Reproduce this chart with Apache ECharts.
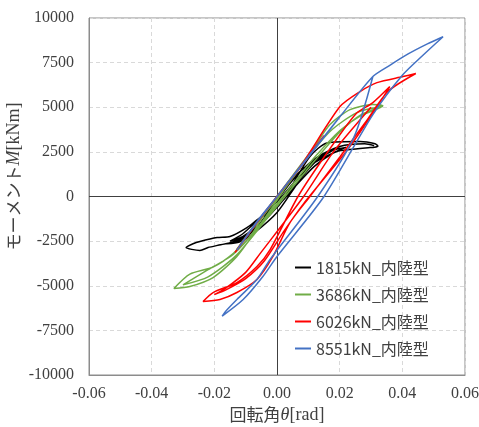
<!DOCTYPE html>
<html>
<head>
<meta charset="utf-8">
<script src="https://cdn.jsdelivr.net/npm/echarts@6/dist/echarts.min.js"></script>
<style>
  html, body { margin: 0; padding: 0; background: #fff; }
  #chart { width: 479px; height: 427px; }
</style>
</head>
<body>
<div id="chart"></div>
<script>
// 軸目盛
var xTicks = [-0.06, -0.04, -0.02, 0, 0.02, 0.04, 0.06];
var yTicks = [-10000, -7500, -5000, -2500, 0, 2500, 5000, 7500, 10000];

var names = ['1815kN_内陸型', '3686kN_内陸型', '6026kN_内陸型', '8551kN_内陸型'];
var colors = ['#000000', '#70AD47', '#FF0000', '#4472C4'];

// 回転角θ[rad], モーメントM[kNm]
var loop1815 = [
  [0, 0], [0.004, 700], [0.008, 1500], [0.012, 2100], [0.016, 2500], [0.012, 2000], [0.006, 900], [0, -300],
  [-0.006, -1300], [-0.011, -2100], [-0.015, -2500], [-0.011, -2250], [-0.006, -1600], [0, -500], [0.006, 700],
  [0.012, 1900], [0.018, 2600], [0.022, 2750], [0.018, 2450], [0.012, 1700], [0.006, 600], [0, -600],
  [-0.006, -1700], [-0.012, -2450], [-0.018, -2700], [-0.022, -2860], [-0.0246, -3020], [-0.029, -2860],
  [-0.0268, -2650], [-0.0246, -2520], [-0.0191, -2300], [-0.015, -2240], [-0.0096, -1740], [-0.0054, -1180],
  [0, -620], [0.004, 390], [0.0105, 2240], [0.016, 3000], [0.0265, 3080], [0.0313, 2950], [0.0322, 2820],
  [0.031, 2760], [0.0297, 2740], [0.0233, 2630], [0.0191, 2520], [0.0137, 2070], [0.0073, 1400], [0.0026, 390],
  [-0.0022, -730], [-0.0064, -1700], [-0.012, -2400], [-0.016, -2650], [-0.012, -2550], [-0.007, -2000],
  [0, -900], [0.006, 600], [0.012, 2100], [0.02, 2800], [0.028, 2950], [0.031, 2850]
];
var loop3686 = [
  [0, 0], [0.006, 1400], [0.012, 2800], [0.006, 1300], [0, 0], [-0.0065, -1500], [-0.013, -3000], [-0.0065, -1450],
  [0.001, 100], [0.0073, 1600], [0.012, 2800], [0.0169, 4030], [0.0233, 4870], [0.0306, 5150], [0.0338, 5080],
  [0.0265, 4500], [0.0201, 3700], [0.012, 2200], [0.006, 900], [0.001, -200], [-0.005, -1500], [-0.0128, -3360],
  [-0.0204, -4540], [-0.0278, -5040], [-0.0329, -5150], [-0.0278, -4350], [-0.0204, -3950], [-0.014, -3200],
  [-0.008, -2100], [-0.0045, -1120], [0.001, 150], [0.0073, 1650], [0.0169, 3640], [0.0255, 4700], [0.0338, 5050],
  [0.027, 4600], [0.02, 3600], [0.012, 2000], [0.004, 300], [-0.004, -1400], [-0.013, -3300], [-0.022, -4500],
  [-0.03, -4950], [-0.022, -4100], [-0.014, -3250], [-0.006, -1700], [0.002, 300]
];
var loop6026 = [
  [0, 0], [0.008, 1800], [0.015, 3400], [0.008, 1750], [0, 0], [-0.0067, -1550], [-0.0134, -3140], [-0.0067, -1500],
  [0, 0], [0.0083, 1900], [0.0201, 5040], [0.0265, 5880], [0.0319, 6380], [0.0402, 6720], [0.0443, 6890],
  [0.0354, 5880], [0.028, 4100], [0.02, 2200], [0.0105, 0], [0.004, -1500], [-0.0013, -3360], [-0.0064, -4650],
  [-0.0128, -5380], [-0.0182, -5770], [-0.0236, -5880], [-0.0204, -5380], [-0.0128, -4820], [-0.0064, -3920],
  [-0.0022, -2970], [0.0067, 0], [0.015, 2200], [0.025, 4600], [0.0306, 5260], [0.036, 6160],
  [0.03, 4500], [0.022, 2500], [0.0085, -400], [0.002, -2000], [-0.004, -3600], [-0.01, -4600], [-0.016, -5200],
  [-0.02, -5500], [-0.0165, -5150], [-0.01, -4250], [-0.0054, -3200], [0.0085, 0], [0.018, 2500], [0.03, 5000]
];
var loop8551 = [
  [0, 0], [0.01, 2250], [0.02, 4450], [0.01, 2200], [0, 0], [-0.0064, -1450], [-0.0128, -3000], [-0.0064, -1400],
  [0, 0], [0.01, 2250], [0.02, 4450], [0.0306, 6720], [0.036, 7350], [0.042, 8000], [0.048, 8550], [0.053, 8950],
  [0.0465, 7900], [0.0402, 6830], [0.0306, 4590], [0.015, 0], [0, -3360],
  [-0.0045, -4480], [-0.0108, -5770], [-0.0175, -6700], [-0.0165, -6450], [-0.0128, -5770], [-0.0064, -4650],
  [-0.0022, -3530], [0.013, 0], [0.0245, 3300], [0.0306, 6720]
];
var loops = [loop1815, loop3686, loop6026, loop8551];

var serif = 'Liberation Serif';
var gothic = 'Noto Sans CJK JP';

var series = [];
for (var i = 0; i < loops.length; i++) {
  var s = {
    name: names[i],
    type: 'line',
    data: loops[i],
    showSymbol: false,
    symbol: 'none',
    smooth: 0.25,
    lineStyle: { color: colors[i], width: 1.5 },
    itemStyle: { color: colors[i] },
    z: 3 + i
  };
  if (i == 0) {
    // 原点を通る軸線
    s.markLine = {
      silent: true,
      symbol: 'none',
      label: { show: false },
      lineStyle: { color: '#404040', type: 'solid', width: 1 },
      data: [{ xAxis: 0 }, { yAxis: 0 }],
      z: 2
    };
  }
  series.push(s);
}

var option = {
  animation: false,
  backgroundColor: '#fff',
  grid: {
    left: 89, right: 14, top: 18, bottom: 52,
    outerBoundsMode: 'none',
    containLabel: false,
    show: true, borderColor: '#8c8c8c', borderWidth: 1
  },
  legend: {
    data: names,
    orient: 'vertical',
    left: 290, top: 254,
    icon: 'rect',
    itemWidth: 16, itemHeight: 2,
    itemGap: 10,
    textStyle: { fontFamily: gothic, fontSize: 16, color: '#404040', lineHeight: 17 }
  },
  xAxis: {
    type: 'value',
    min: xTicks[0], max: xTicks[xTicks.length - 1], interval: 0.02,
    name: '{a|回転角}{b|θ}{c|[rad]}',
    nameLocation: 'middle', nameGap: 31, nameMoveOverlap: false,
    nameTextStyle: {
      rich: {
        a: { fontFamily: gothic, fontSize: 17, color: '#404040' },
        b: { fontFamily: serif, fontStyle: 'italic', fontSize: 18, color: '#404040' },
        c: { fontFamily: serif, fontSize: 18, color: '#404040' }
      }
    },
    axisLine: { onZero: false, lineStyle: { color: '#8c8c8c' } },
    axisTick: { show: false },
    axisLabel: {
      margin: 11, fontFamily: serif, fontSize: 16, color: '#404040',
      formatter: function (v) { return Math.abs(v) < 1e-9 ? '0.00' : v.toFixed(2); }
    },
    splitLine: { lineStyle: { color: '#d9d9d9', type: [4, 3] } }
  },
  yAxis: {
    type: 'value',
    min: yTicks[0], max: yTicks[yTicks.length - 1], interval: 2500,
    name: '{a|モーメント}{b|M}{c|[kNm]}',
    nameLocation: 'middle', nameGap: 66, nameMoveOverlap: false,
    nameTextStyle: {
      padding: [0, 0, 0, 40],
      rich: {
        a: { fontFamily: gothic, fontSize: 17, color: '#404040' },
        b: { fontFamily: serif, fontStyle: 'italic', fontSize: 18, color: '#404040' },
        c: { fontFamily: serif, fontSize: 18, color: '#404040' }
      }
    },
    axisLine: { onZero: false, lineStyle: { color: '#8c8c8c' } },
    axisTick: { show: false },
    axisLabel: {
      margin: 15, fontFamily: serif, fontSize: 16, color: '#404040',
      formatter: function (v) { return String(v); }
    },
    splitLine: { lineStyle: { color: '#d9d9d9', type: [4, 3] } }
  },
  series: series
};

var myChart = echarts.init(document.getElementById('chart'));
myChart.setOption(option);
</script>
</body>
</html>
